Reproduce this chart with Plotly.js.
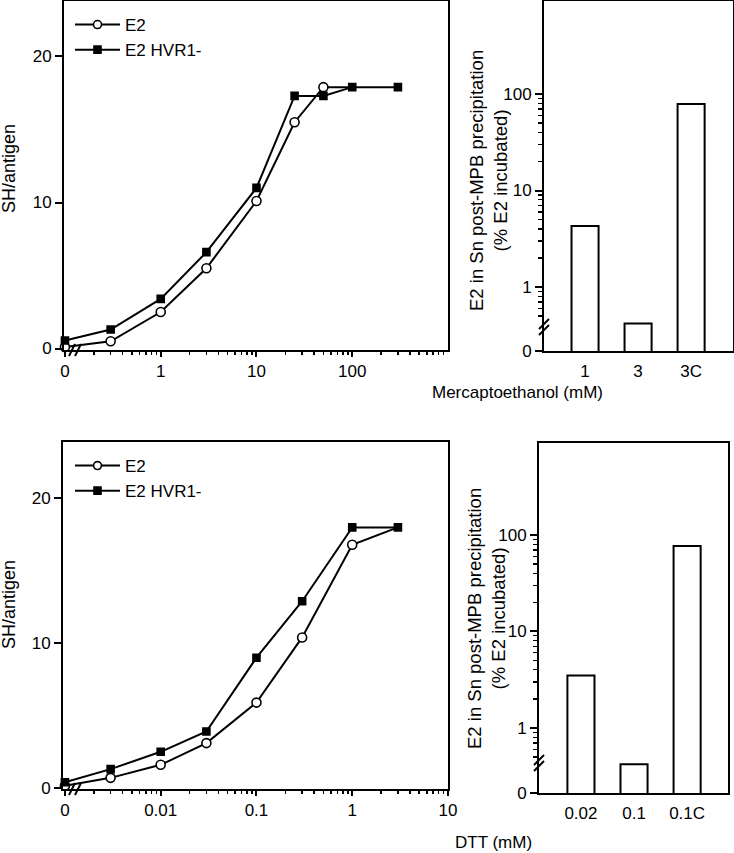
<!DOCTYPE html>
<html>
<head>
<meta charset="utf-8">
<script src="https://cdn.plot.ly/plotly-3.0.1.min.js"></script>
<style>
  html, body { margin: 0; padding: 0; background: #fff; }
  #chart { width: 734px; height: 853px; }
</style>
</head>
<body>
<div id="chart"></div>
<script>
// mercaptoethanol titration (mM); the "0" dose is drawn at 0.1 on the log axis
const mercaptoDose = [0.1, 0.3, 1, 3, 10, 25, 50, 100, 300];
const e2Merc = [0.1, 0.5, 2.5, 5.5, 10.1, 15.5, 17.9, 17.9, null];
const hvrMerc = [0.55, 1.3, 3.4, 6.6, 11.0, 17.3, 17.3, 17.9, 17.9];
const mercTickVals = [0.1, 1, 10, 100];
const mercTickText = ["0", "1", "10", "100"];

// DTT titration (mM); the "0" dose is drawn at 0.001
const dttDose = [0.001, 0.003, 0.01, 0.03, 0.1, 0.3, 1, 3];
const e2Dtt = [0.15, 0.7, 1.6, 3.1, 5.9, 10.4, 16.8, 18.0];
const hvrDtt = [0.4, 1.3, 2.5, 3.9, 9.0, 12.9, 18.0, 18.0];
const dttTickVals = [0.001, 0.01, 0.1, 1, 10];
const dttTickText = ["0", "0.01", "0.1", "1", "10"];

// % E2 in supernatant after MPB precipitation
const mercBarLabels = ["1", "3", "3C"];
const mercBarPct = [4.3, 0.42, 79];
const dttBarLabels = ["0.02", "0.1", "0.1C"];
const dttBarPct = [3.5, 0.42, 77];

const FONT = "Liberation Sans, Arial, Helvetica, sans-serif";
const W = 734, H = 853;

function px(x0, x1) { return [x0 / W, x1 / W]; }
function py(top, bottom) { return [1 - bottom / H, 1 - top / H]; }

function minorLogTicks(fromExp, toExp) {
  const vals = [];
  for (let e = fromExp; e < toExp; e++) {
    for (let m = 2; m <= 9; m++) vals.push(m * Math.pow(10, e));
  }
  return vals;
}

function lineTrace(x, y, name, symbol, fill, xa, ya, legend) {
  const lastIdx = y.reduce((acc, v, i) => (v === null ? acc : i), 0);
  // E2 joins the HVR1- plateau; that last open circle sits under the square
  const hideLast = symbol === "circle";
  return {
    x, y, name,
    xaxis: xa, yaxis: ya,
    legend,
    mode: "lines+markers",
    cliponaxis: false,
    line: { color: "#000", width: 2 },
    marker: {
      symbol,
      color: fill,
      opacity: 1,
      size: y.map((v, i) => (hideLast && i === lastIdx && i > 5 ? 0 : (symbol === "circle" ? 9 : 7))),
      line: { color: "#000", width: 1.6 }
    }
  };
}

function barTrace(labels, values, xa, ya) {
  return {
    type: "bar",
    x: labels, y: values,
    xaxis: xa, yaxis: ya,
    showlegend: false,
    width: 0.51,
    marker: { color: "#fff", line: { color: "#000", width: 2 } }
  };
}

const traces = [
  lineTrace(mercaptoDose, e2Merc, "E2", "circle", "#fff", "x", "y", "legend"),
  lineTrace(mercaptoDose, hvrMerc, "E2 HVR1-", "square", "#000", "x", "y", "legend"),
  barTrace(mercBarLabels, mercBarPct, "x2", "y2"),
  lineTrace(dttDose, e2Dtt, "E2", "circle", "#fff", "x3", "y3", "legend2"),
  lineTrace(dttDose, hvrDtt, "E2 HVR1-", "square", "#000", "x3", "y3", "legend2"),
  barTrace(dttBarLabels, dttBarPct, "x4", "y4")
];

const frame = {
  showline: true, linecolor: "#000", linewidth: 2, mirror: true,
  showgrid: false, zeroline: false, fixedrange: true,
  tickfont: { family: FONT, size: 17, color: "#000" },
  tickcolor: "#000"
};

function logX(domain, range, tickvals, ticktext, anchor) {
  return Object.assign({}, frame, {
    domain, anchor, type: "log", range, tickvals, ticktext,
    tickmode: "array", ticks: "outside", ticklen: 5, tickwidth: 2,
    minor: { tickmode: "array", tickvals: minorLogTicks(-3, 3), ticks: "outside", ticklen: 3, tickwidth: 1.5, tickcolor: "#000", showgrid: false }
  });
}

function linY(domain, range, anchor) {
  return Object.assign({}, frame, {
    domain, anchor, range, tickvals: [0, 10, 20], tickmode: "array",
    ticks: "outside", ticklen: 7, tickwidth: 2
  });
}

function catX(domain, range, anchor) {
  return Object.assign({}, frame, {
    domain, anchor, type: "category", range, ticks: "", ticklabelstandoff: 4
  });
}

function barY(domain, range, anchor) {
  const zero = Math.pow(10, range[0]);
  return Object.assign({}, frame, {
    domain, anchor, type: "log", range,
    tickmode: "array", tickvals: [zero, 1, 10, 100], ticktext: ["0", "1", "10", "100"],
    ticks: "outside", ticklen: 7, tickwidth: 2,
    minor: { tickmode: "array", tickvals: minorLogTicks(-1, 2).filter((v) => v >= 0.5), ticks: "outside", ticklen: 4, tickwidth: 1.2, tickcolor: "#000", showgrid: false }
  });
}

function breakMarks(xref, yref, xanchor, yanchor, dir) {
  // two short parallel strokes across the axis line
  const marks = [];
  [-3, 3].forEach((off) => {
    const s = { type: "line", xref, yref, xsizemode: "pixel", ysizemode: "pixel", xanchor, yanchor, line: { color: "#000", width: 2 } };
    if (dir === "x") {
      Object.assign(s, { x0: off - 3, x1: off + 3, y0: -6, y1: 6 });
    } else {
      Object.assign(s, { x0: -5, x1: 5, y0: off - 5, y1: off + 5 });
    }
    marks.push(s);
  });
  return marks;
}

function annot(text, x, y, angle, size) {
  return {
    text, xref: "paper", yref: "paper", x: x / W, y: 1 - y / H,
    xanchor: "center", yanchor: "middle", showarrow: false, textangle: angle || 0,
    font: { family: FONT, size: size || 17, color: "#000" }
  };
}

const legendBase = {
  bgcolor: "rgba(0,0,0,0)", borderwidth: 0,
  font: { family: FONT, size: 17, color: "#000" },
  xanchor: "left", yanchor: "top", tracegroupgap: 0, itemclick: false,
  itemwidth: 45
};

const layout = {
  width: W, height: H,
  margin: { l: 0, r: 0, t: 0, b: 0 },
  paper_bgcolor: "#fff", plot_bgcolor: "#fff",
  font: { family: FONT, size: 17, color: "#000" },
  xaxis: logX(px(64, 448), [-1.01, 3.0], mercTickVals, mercTickText, "y"),
  yaxis: linY(py(1, 350), [-0.1, 23.8], "x"),
  xaxis2: catX(px(544, 733), [-0.774, 2.79], "y2"),
  yaxis2: barY(py(1, 351), [-0.663, 2.964], "x2"),
  xaxis3: logX(px(63, 448), [-3.02, 1.0], dttTickVals, dttTickText, "y3"),
  yaxis3: linY(py(442, 789), [-0.07, 23.9], "x3"),
  xaxis4: catX(px(539, 728), [-0.79, 2.77], "y4"),
  yaxis4: barY(py(443, 793), [-0.674, 2.953], "x4"),
  legend: Object.assign({}, legendBase, { x: 70 / W, y: 1 - 7 / H }),
  legend2: Object.assign({}, legendBase, { x: 70 / W, y: 1 - 448 / H }),
  shapes: [
    ...breakMarks("x domain", "y domain", 11 / 384, 0, "x"),
    ...breakMarks("x3 domain", "y3 domain", 12 / 385, 0, "x"),
    ...breakMarks("x2 domain", "y2 domain", 0, 24 / 350, "y"),
    ...breakMarks("x4 domain", "y4 domain", 0, 30 / 350, "y")
  ],
  annotations: [
    annot("SH/antigen", 9, 169, -90, 18),
    annot("SH/antigen", 9, 605, -90, 18),
    annot("E2 in Sn post-MPB precipitation<br>(% E2 incubated)", 488, 181, -90, 18.5),
    annot("E2 in Sn post-MPB precipitation<br>(% E2 incubated)", 486, 619, -90, 18.5),
    annot("Mercaptoethanol (mM)", 517, 392),
    annot("DTT (mM)", 494, 842)
  ]
};

Plotly.newPlot("chart", traces, layout, { displayModeBar: false, staticPlot: true });
</script>
</body>
</html>
